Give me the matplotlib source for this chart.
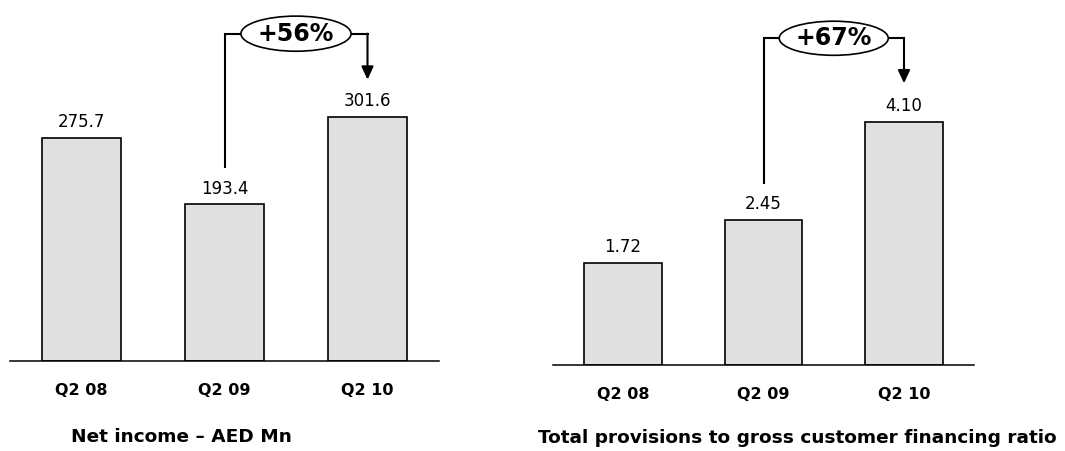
import matplotlib
matplotlib.use("Agg")
import matplotlib.pyplot as plt
from matplotlib.patches import Ellipse

# ---- data ----
categories = ["Q2 08", "Q2 09", "Q2 10"]
net_income = [275.7, 193.4, 301.6]
net_income_labels = ["275.7", "193.4", "301.6"]
provisions_ratio = [1.72, 2.45, 4.10]
provisions_labels = ["1.72", "2.45", "4.10"]
growth_left = "+56%"
growth_right = "+67%"
title_left = "Net income – AED Mn"
title_right = "Total provisions to gross customer financing ratio"

W, H = 1065, 451
fig = plt.figure(figsize=(W / 100, H / 100), dpi=100)
fig.patch.set_facecolor("white")

BAR_COLOR = "#e0e0e0"
FONT = "DejaVu Sans"


def px_axes(x0, x1, ybase, ytop=0):
    return fig.add_axes([x0 / W, (H - ybase) / H, (x1 - x0) / W, (ybase - ytop) / H])


def panel(ax, values, labels, ymax, width, growth, line_y0, top_y, tip_y,
          ell_w, ell_h):
    x = list(range(len(values)))
    ax.bar(x, values, width=width, color=BAR_COLOR, edgecolor="black",
           linewidth=1.2, zorder=2)
    ax.set_xlim(-0.5, 2.5)
    ax.set_ylim(0, ymax)
    for s in ("top", "left", "right"):
        ax.spines[s].set_visible(False)
    ax.spines["bottom"].set_linewidth(1.1)
    ax.set_yticks([])
    ax.set_xticks(x)
    ax.set_xticklabels(categories, fontsize=11.5, fontweight="bold",
                       family=FONT)
    ax.tick_params(axis="x", length=0, pad=16)
    ax.patch.set_alpha(0)
    for xi, v, lab in zip(x, values, labels):
        ax.annotate(lab, (xi, v), xytext=(0, 11.3), textcoords="offset points",
                    ha="center", va="center", fontsize=12, family=FONT)
    # growth bracket
    ax.plot([1, 1, 1.5], [line_y0, top_y, top_y], color="black", lw=1.5,
            zorder=3, solid_joinstyle="miter", clip_on=False)
    ax.plot([1.5, 2.0], [top_y, top_y], color="black", lw=1.5, zorder=3,
            clip_on=False)
    ax.annotate("", xy=(2.0, tip_y), xytext=(2.0, top_y),
                arrowprops=dict(arrowstyle="-|>,head_length=0.65,head_width=0.3",
                                color="black", lw=1.5, shrinkA=0, shrinkB=0,
                                mutation_scale=12),
                zorder=3, annotation_clip=False)
    ell = Ellipse((1.5, top_y), ell_w, ell_h, facecolor="white",
                  edgecolor="black", lw=1.2, zorder=4, clip_on=False)
    ax.add_patch(ell)
    ax.text(1.5, top_y, growth, ha="center", va="center", fontsize=17,
            fontweight="bold", family=FONT, zorder=5)


# left panel: baseline at y=360.5 px, scale ~0.807 px/unit
axL = px_axes(10, 439, 360.5)
panel(axL, net_income, net_income_labels, ymax=360.5 / 0.807, width=0.55,
      growth=growth_left, line_y0=240, top_y=405, tip_y=348,
      ell_w=0.77, ell_h=43.5)

# right panel: baseline at y=365 px, scale ~59.3 px/unit
axR = px_axes(552.75, 974.25, 365)
panel(axR, provisions_ratio, provisions_labels, ymax=365 / 59.3, width=0.555,
      growth=growth_right, line_y0=3.07, top_y=5.51, tip_y=4.75,
      ell_w=0.776, ell_h=0.575)

fig.text(181.5 / W, 1 - 436.5 / H, title_left, ha="center", va="center",
         fontsize=13.3, fontweight="bold", family=FONT)
fig.text(797.5 / W, 1 - 438 / H, title_right, ha="center", va="center",
         fontsize=13.3, fontweight="bold", family=FONT)

fig.savefig("out.png", dpi=100, facecolor="white")
